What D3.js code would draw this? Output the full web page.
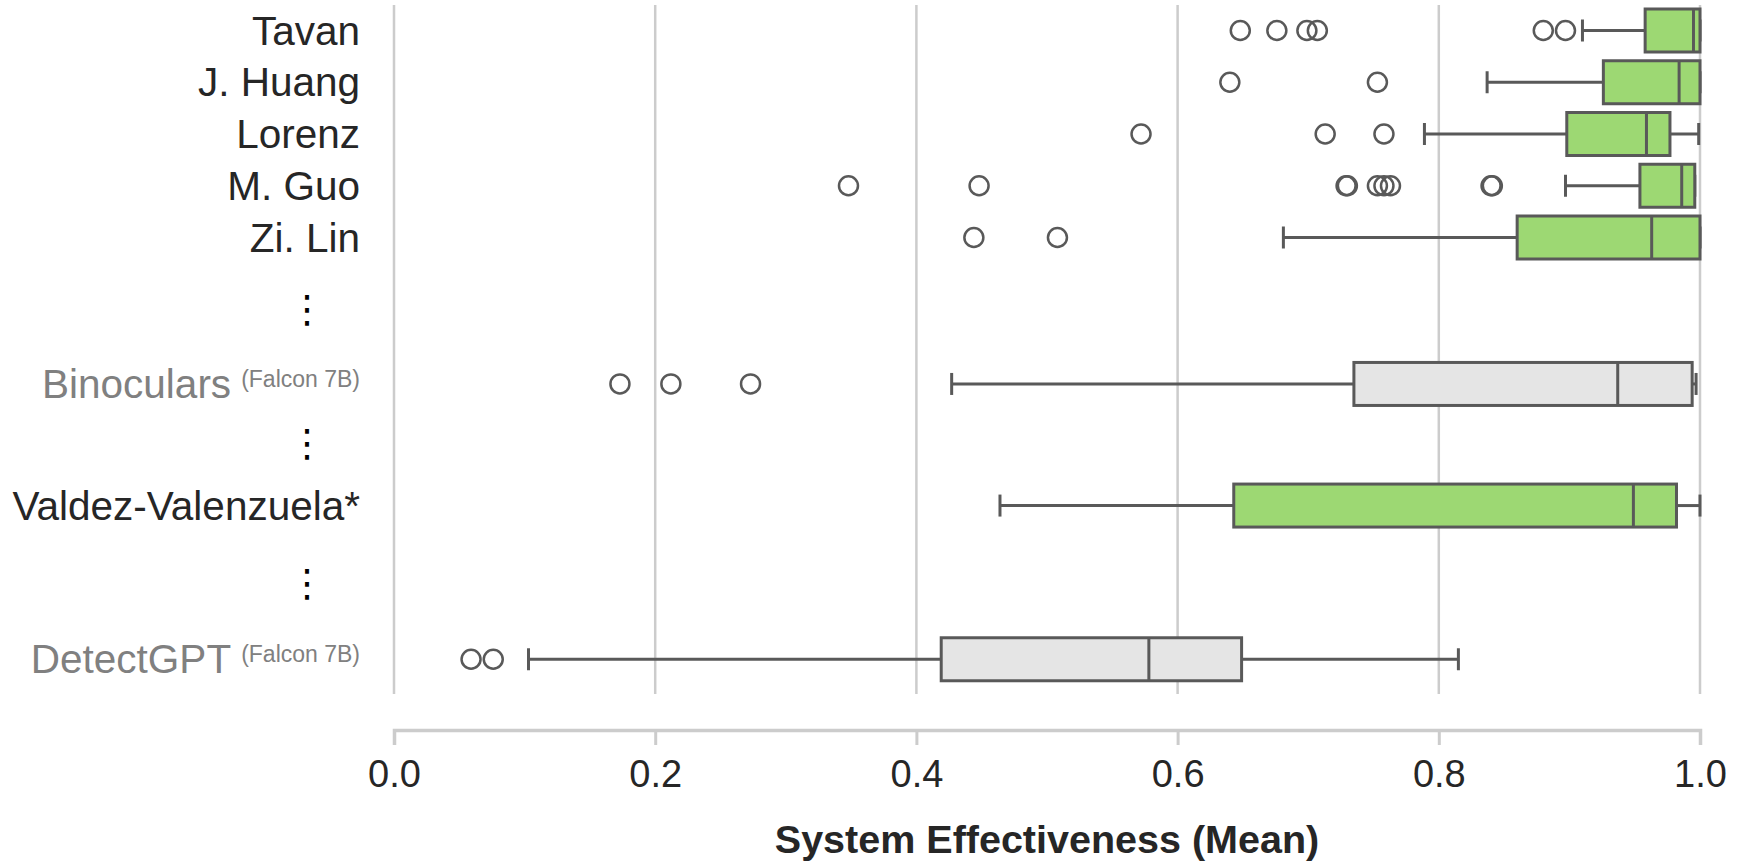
<!DOCTYPE html>
<html>
<head>
<meta charset="utf-8">
<script src="https://cdn.jsdelivr.net/npm/d3@7"></script>
<style>
  body { margin: 0; background: #fff; }
  svg { display: block; font-family: "Liberation Sans", Arial, Helvetica, sans-serif; }
</style>
</head>
<body>
<svg width="1744" height="863"></svg>
<script>
// Systems, top to bottom
const systems = ["Tavan", "J. Huang", "Lorenz", "M. Guo", "Zi. Lin", "Binoculars", "Valdez-Valenzuela*", "DetectGPT"];
const suffixes = ["", "", "", "", "", "(Falcon 7B)", "", "(Falcon 7B)"];
const isBaseline = [false, false, false, false, false, true, false, true];

// Box statistics (mean system effectiveness)
const whiskerLow  = [0.910, 0.837, 0.789, 0.897, 0.681, 0.427, 0.464, 0.103];
const q1          = [0.958, 0.926, 0.898, 0.954, 0.860, 0.735, 0.643, 0.419];
const median      = [0.995, 0.984, 0.959, 0.986, 0.963, 0.937, 0.949, 0.578];
const q3          = [1.000, 1.000, 0.977, 0.996, 1.000, 0.994, 0.982, 0.649];
const whiskerHigh = [1.000, 1.000, 0.999, 0.996, 1.000, 0.997, 1.000, 0.815];
const outliers = [
  [0.648, 0.676, 0.699, 0.707, 0.880, 0.897],
  [0.640, 0.753],
  [0.572, 0.713, 0.758],
  [0.348, 0.448, 0.729, 0.730, 0.753, 0.758, 0.763, 0.840, 0.841],
  [0.444, 0.508],
  [0.173, 0.212, 0.273],
  [],
  [0.059, 0.076]
];

const xTicks = [0, 0.2, 0.4, 0.6, 0.8, 1.0];
const xTitle = "System Effectiveness (Mean)";

// Layout: row slots (gaps hold the vertical ellipses)
const rowSlot = [0, 1, 2, 3, 4, 6.83, 9.18, 12.15];
const gapSlot = [5.38, 7.97, 10.68];

const svg = d3.select("svg");
const edge = "#595959";

const x = d3.scaleLinear().domain([0, 1]).range([394, 1700]);
const y = d3.scaleLinear().domain([0, 1]).range([30.5, 82.25]);
const boxH = 43, capH = 22;

// Vertical gridlines
svg.append("g")
  .selectAll("line")
  .data(xTicks)
  .join("line")
  .attr("x1", d => x(d)).attr("x2", d => x(d))
  .attr("y1", 5).attr("y2", 694)
  .attr("stroke", "#cccccc")
  .attr("stroke-width", 2.5);

// Bottom axis, detached from the plot
const axis = svg.append("g")
  .attr("transform", "translate(0,730)")
  .call(d3.axisBottom(x).tickValues(xTicks).tickFormat(d3.format(".1f"))
    .tickSize(15).tickSizeOuter(15).tickPadding(15));
axis.select(".domain").attr("stroke", "#cccccc").attr("stroke-width", 3.5);
axis.selectAll(".tick line").attr("stroke", "#cccccc").attr("stroke-width", 3);
axis.selectAll(".tick text")
  .attr("fill", "#262626")
  .style("font-size", "38px")
  .style("font-family", "'Liberation Sans', Arial, sans-serif");

svg.append("text")
  .attr("x", (x(0) + x(1)) / 2)
  .attr("y", 853)
  .attr("text-anchor", "middle")
  .attr("fill", "#262626")
  .style("font-size", "39.5px")
  .style("font-weight", "bold")
  .text(xTitle);

// Row labels
const labels = svg.append("g")
  .selectAll("text")
  .data(systems)
  .join("text")
  .attr("x", 360)
  .attr("y", (d, i) => y(rowSlot[i]) + 14)
  .attr("text-anchor", "end")
  .attr("fill", (d, i) => isBaseline[i] ? "#808080" : "#262626")
  .style("font-size", "40.5px");
labels.append("tspan").text(d => d);
labels.filter((d, i) => suffixes[i] !== "")
  .append("tspan")
  .attr("dx", 10)
  .attr("dy", -11)
  .style("font-size", "23px")
  .text((d) => suffixes[systems.indexOf(d)]);

// Vertical ellipses between groups
svg.append("g")
  .selectAll("text")
  .data(gapSlot)
  .join("text")
  .attr("x", 307)
  .attr("y", d => y(d))
  .attr("dy", "0.35em")
  .attr("text-anchor", "middle")
  .attr("fill", "#000")
  .style("font-family", "'DejaVu Sans', sans-serif")
  .style("font-size", "38px")
  .text("\u22EE");

// Boxes
const rows = svg.append("g")
  .selectAll("g")
  .data(systems.map((s, i) => i))
  .join("g")
  .attr("transform", i => `translate(0,${y(rowSlot[i])})`);

rows.append("line")
  .attr("x1", i => x(whiskerLow[i])).attr("x2", i => x(q1[i]))
  .attr("stroke", edge).attr("stroke-width", 3);
rows.append("line")
  .attr("x1", i => x(q3[i])).attr("x2", i => x(whiskerHigh[i]))
  .attr("stroke", edge).attr("stroke-width", 3);
rows.append("line")
  .attr("x1", i => x(whiskerLow[i])).attr("x2", i => x(whiskerLow[i]))
  .attr("y1", -capH / 2).attr("y2", capH / 2)
  .attr("stroke", edge).attr("stroke-width", 3);
rows.append("line")
  .attr("x1", i => x(whiskerHigh[i])).attr("x2", i => x(whiskerHigh[i]))
  .attr("y1", -capH / 2).attr("y2", capH / 2)
  .attr("stroke", edge).attr("stroke-width", 3);

rows.append("rect")
  .attr("x", i => x(q1[i]))
  .attr("width", i => x(q3[i]) - x(q1[i]))
  .attr("y", -boxH / 2)
  .attr("height", boxH)
  .attr("fill", i => isBaseline[i] ? "#e5e5e5" : "#9dd873")
  .attr("stroke", edge)
  .attr("stroke-width", 3);

rows.append("line")
  .attr("x1", i => x(median[i])).attr("x2", i => x(median[i]))
  .attr("y1", -boxH / 2).attr("y2", boxH / 2)
  .attr("stroke", edge).attr("stroke-width", 3);

rows.selectAll("circle")
  .data(i => outliers[i])
  .join("circle")
  .attr("cx", d => x(d))
  .attr("cy", 0)
  .attr("r", 9.5)
  .attr("fill", "none")
  .attr("stroke", edge)
  .attr("stroke-width", 2.5);
</script>
</body>
</html>
